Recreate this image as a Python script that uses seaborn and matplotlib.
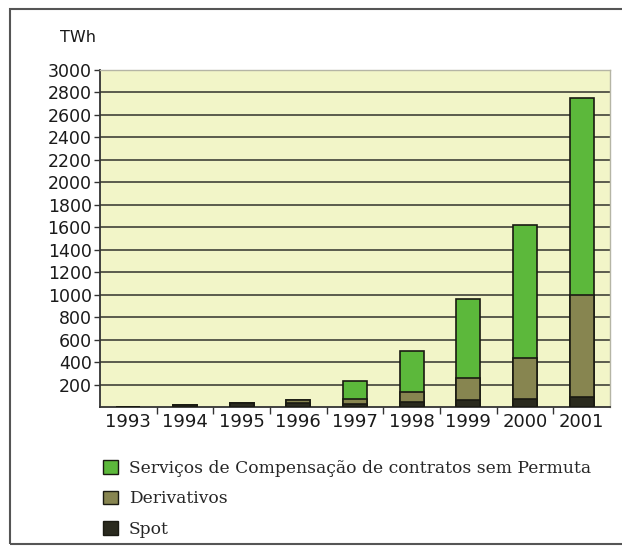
import matplotlib
matplotlib.use("Agg")
import matplotlib.pyplot as plt
import matplotlib.patches as mpatches
from matplotlib.ticker import FixedLocator
import seaborn as sns
import pandas as pd
import numpy as np

years = ["1993", "1994", "1995", "1996", "1997", "1998", "1999", "2000", "2001"]
spot = [0, 20, 35, 40, 30, 45, 60, 70, 90]
derivativos = [0, 0, 0, 25, 45, 85, 200, 370, 910]
servicos = [0, 0, 0, 0, 158, 365, 700, 1180, 1750]
y_ticks = [200, 400, 600, 800, 1000, 1200, 1400, 1600, 1800, 2000, 2200, 2400, 2600, 2800, 3000]
labels = ["Serviços de Compensação de contratos sem Permuta", "Derivativos", "Spot"]
unit = "TWh"

c_serv = "#5cb83b"
c_deriv = "#878550"
c_spot = "#2a2a1e"

sns.set_theme(style="white")
plt.rcParams['font.family'] = ['DejaVu Sans']

df = pd.DataFrame({"year": years, "spot": spot, "deriv": derivativos, "serv": servicos})
df["lvl2"] = df["spot"] + df["deriv"]
df["lvl3"] = df["lvl2"] + df["serv"]

fig = plt.figure(figsize=(6.22, 5.46), dpi=100)
ax = fig.add_axes([100 / 622, 1 - 407 / 546, 510 / 622, 337 / 546])
ax.set_facecolor("#f2f5c8")

for col, color in [("lvl3", c_serv), ("lvl2", c_deriv), ("spot", c_spot)]:
    sns.barplot(data=df, x="year", y=col, color=color, width=0.42, ax=ax,
                edgecolor="#1a1a12", linewidth=1.2, saturation=1, zorder=3)

ax.set_ylim(0, 3000)
ax.set_xlim(-0.5, 8.5)
ax.set_yticks(y_ticks)
ax.set_yticklabels([str(t) for t in y_ticks], fontsize=12.5, color="#1a1a1a")
ax.yaxis.grid(True, color="#4f4f44", linewidth=1.3, zorder=1)
ax.set_axisbelow(True)
ax.set_xlabel("")
ax.set_ylabel("")
ax.tick_params(axis="y", which="major", length=4, width=1, color="#333333", left=True, pad=2)
ax.tick_params(axis="x", which="major", length=0, labelsize=13, colors="#1a1a1a", pad=4)
ax.xaxis.set_minor_locator(FixedLocator(np.arange(0.5, 8.0, 1.0)))
ax.tick_params(axis="x", which="minor", length=5, width=1, color="#333333", bottom=True)

for side in ["left", "bottom"]:
    ax.spines[side].set_color("#333333")
    ax.spines[side].set_linewidth(1.3)
for side in ["top", "right"]:
    ax.spines[side].set_color("#b5b5a5")
    ax.spines[side].set_linewidth(1.0)

fig.text(60 / 622, 1 - 38 / 546, unit, fontsize=11.5, ha="left", va="center", color="#1a1a1a")

handles = [mpatches.Patch(facecolor=c, edgecolor="#1a1a12", linewidth=1.0) for c in [c_serv, c_deriv, c_spot]]
fig.legend(handles, labels, loc="upper left", bbox_to_anchor=(103 / 622, 1 - 460 / 546),
           frameon=False, prop={"family": "DejaVu Serif", "size": 12.3},
           handlelength=0.85, handleheight=0.85, handletextpad=0.65, labelspacing=0.78,
           borderaxespad=0, borderpad=0)

frame = mpatches.Rectangle((10 / 622, 1 - 544 / 546), 640 / 622, 535 / 546,
                           transform=fig.transFigure, fill=False, edgecolor="#555555",
                           linewidth=1.5, clip_on=False)
fig.patches.append(frame)

fig.savefig("out.png", dpi=100, facecolor="white")
